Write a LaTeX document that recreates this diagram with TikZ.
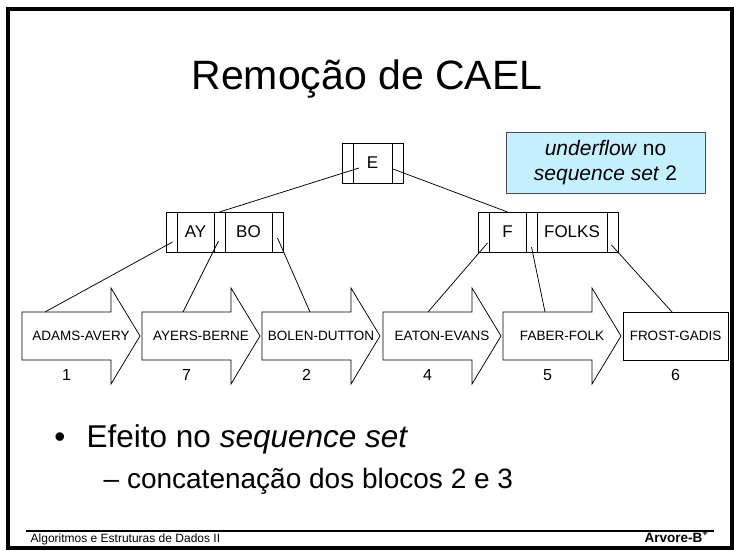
\documentclass[tikz,border=0pt]{standalone}
\usepackage{fontspec}
\setmainfont{Liberation Sans}
\usepackage{tikz}
\usetikzlibrary{calc, positioning}
\definecolor{notecyan}{RGB}{196,240,255}
\tikzset{
  ptr/.style={draw, minimum width=11pt, minimum height=40pt, inner sep=0pt, outer sep=0pt},
  key/.style={draw, minimum height=40pt, inner sep=0pt, outer sep=0pt, font=\fontsize{17}{20}\selectfont},
  blk/.style={minimum width=118pt, minimum height=48pt, inner sep=0pt, outer sep=0pt, font=\fontsize{13.5}{16}\selectfont},
  num/.style={font=\fontsize{16}{19}\selectfont},
}

\begin{document}
\begin{tikzpicture}[x=1pt, y=-1pt, line width=0.75pt]
\fill[white] (0,0) rectangle (734,550);
\useasboundingbox (0,0) rectangle (734,550);
\draw[line width=4pt] (7.5,9) rectangle (731.5,548);

\node[font=\fontsize{41}{48}\selectfont, anchor=base] (title) at (367,89) {Remoção de CAEL};

\node[ptr] (ep0) at (347.5,163) {};
\node[key, minimum width=39pt, right=0pt of ep0] (ek) {E};
\node[ptr, right=0pt of ek] (ep1) {};

\node[ptr] (ap0) at (171.5,232) {};
\node[key, minimum width=37pt, right=0pt of ap0] (ak1) {AY};
\node[ptr, right=0pt of ak1] (ap1) {};
\node[key, minimum width=47pt, right=0pt of ap1] (ak2) {BO};
\node[ptr, right=0pt of ak2] (ap2) {};

\node[ptr] (fp0) at (483.5,232) {};
\node[key, minimum width=37pt, right=0pt of fp0] (fk1) {F};
\node[ptr, right=0pt of fk1] (fp1) {};
\node[key, minimum width=70pt, right=0pt of fp1] (fk2) {FOLKS};
\node[ptr, right=0pt of fk2] (fp2) {};

\node[draw=black!70, fill=notecyan, minimum width=199pt, minimum height=61pt, align=center,
      font=\fontsize{21}{25}\selectfont] (note) at (605.5,162.5) {\textit{underflow} no\\\textit{sequence set} 2};

\foreach \i/\x/\txt/\n in {1/22/ADAMS-AVERY/1, 2/142/AYERS-BERNE/7, 3/262/BOLEN-DUTTON/2,
                           4/383/EATON-EVANS/4, 5/503/FABER-FOLK/5} {
  \node[blk, anchor=north west] (b\i) at (\x,312) {\txt};
  \draw (b\i.north west) -- ([xshift=-29pt]b\i.north east) -- ++(0pt,24pt) -- (b\i.east)
    -- ([xshift=-29pt,yshift=-24pt]b\i.south east) -- ++(0pt,24pt) -- (b\i.south west) -- cycle;
  \node[num] (n\i) at ($(b\i.south west)+(44.5,15)$) {\n};
}
\node[blk, draw, minimum width=105pt, anchor=north west] (b6) at (623,312) {FROST-GADIS};
\node[num] (n6) at ($(b6.south)+(0,15)$) {6};

\draw ($(ek.west)+(6,5)$) -- (ap1.north);
\draw ($(ep1.west)+(1,6)$) -- (fk1.north);
\draw ($(ap0)+(1,10)$) -- ($(b1.north west)+(23,0)$);
\draw ($(ap1)+(-1,9)$) -- ($(b2.north west)+(41,0)$);
\draw ($(ap2)+(0,6)$) -- ($(b3.north west)+(48,0)$);
\draw ($(fp0)+(4,11)$) -- ($(b4.north west)+(45,0)$);
\draw ($(fp1)+(0,15)$) -- ($(b5.north west)+(42,0)$);
\draw ($(fp2)+(-1,13)$) -- ($(b6.north west)+(49,0)$);

\node[anchor=base, font=\fontsize{31.5}{38}\selectfont] (dot) at (60,447) {\textbullet};
\node[anchor=base west, font=\fontsize{31.5}{38}\selectfont] (l1) at (83,447) {Efeito no \textit{sequence set}};
\node[anchor=base west, font=\fontsize{28}{34}\selectfont] (l2) at (100,488) {– concatenação dos blocos 2 e 3};

\draw[line width=1.2pt] (26,531) -- (714,531);
\node[anchor=base west, font=\fontsize{12}{14}\selectfont] (ft) at (27,542) {Algoritmos e Estruturas de Dados II};
\node[anchor=base east, font=\bfseries\fontsize{13.5}{15}\selectfont] (fr) at (712,542) {Árvore-B\textsuperscript{+}};
\end{tikzpicture}
\end{document}
